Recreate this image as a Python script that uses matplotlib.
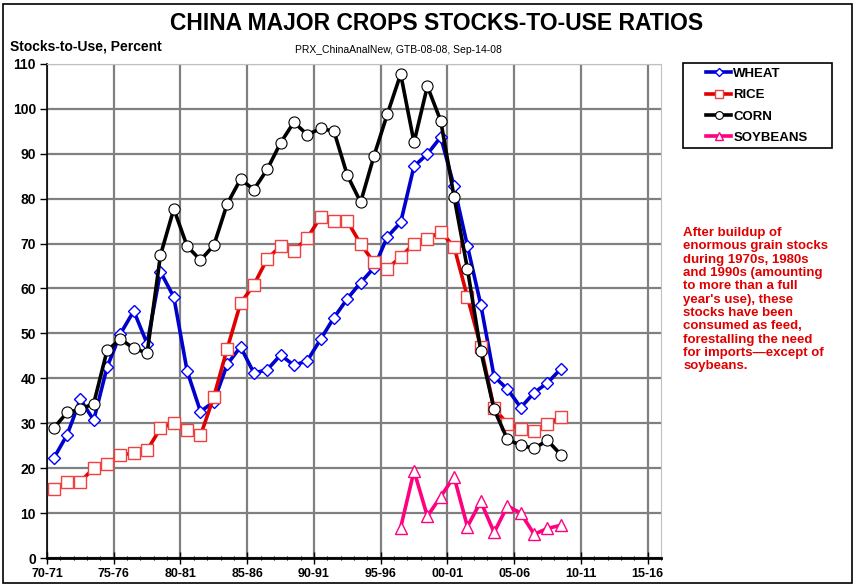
import numpy as np
import matplotlib
matplotlib.use("Agg")
import matplotlib.pyplot as plt
from matplotlib.patches import Rectangle

plt.rcParams['font.family'] = ['Liberation Sans', 'DejaVu Sans']

# marketing years 1970/71 .. 2008/09
tick_labels = ['70-71', '75-76', '80-81', '85-86', '90-91', '95-96',
               '00-01', '05-06', '10-11', '15-16']

wheat = [22.2, 27.4, 35.3, 30.7, 42.5, 49.9, 55.0, 47.7, 63.7, 58.1,
         41.6, 32.6, 34.8, 43.1, 47.0, 41.2, 41.9, 45.2, 42.9, 43.9,
         48.7, 53.5, 57.7, 61.3, 64.6, 71.5, 74.7, 87.2, 89.9, 93.7,
         82.7, 69.5, 56.4, 40.4, 37.6, 33.5, 36.8, 39.0, 42.1]
rice = [15.4, 17.0, 17.0, 20.0, 20.9, 23.0, 23.3, 24.0, 28.9, 30.0,
        28.4, 27.3, 35.9, 46.6, 56.7, 60.8, 66.6, 69.4, 68.4, 71.2,
        75.9, 75.0, 75.0, 69.9, 65.8, 64.4, 67.0, 70.0, 71.0, 72.6,
        69.3, 58.1, 47.0, 33.3, 29.9, 28.8, 28.3, 29.8, 31.4]
corn = [28.9, 32.4, 33.1, 34.4, 46.2, 48.7, 46.7, 45.6, 67.4, 77.7,
        69.4, 66.3, 69.6, 78.8, 84.3, 82.0, 86.5, 92.4, 97.0, 94.2,
        95.6, 95.0, 85.2, 79.2, 89.5, 98.8, 107.7, 92.5, 105.0, 97.3,
        80.4, 64.4, 46.1, 33.1, 26.4, 25.1, 24.4, 26.2, 23.0]
# soybeans start in 1996/97
soy_start = 26
soybeans = [6.8, 19.4, 9.3, 13.7, 18.1, 7.0, 12.6, 5.7, 11.6, 10.0,
            5.3, 6.6, 7.3]

note = ("After buildup of\nenormous grain stocks\nduring 1970s, 1980s\n"
        "and 1990s (amounting\nto more than a full\nyear's use), these\n"
        "stocks have been\nconsumed as feed,\nforestalling the need\n"
        "for imports\u2014except of\nsoybeans.")

x = np.arange(len(wheat)) + 0.5
x_soy = np.arange(soy_start, soy_start + len(soybeans)) + 0.5

fig = plt.figure(figsize=(8.55, 5.85), dpi=100)
ax = fig.add_axes([0.055, 0.046, 0.718, 0.845])

ax.plot(x, wheat, color='#0000CC', lw=2.6, marker='D', ms=6,
        mfc='white', mec='#0000FF', mew=1.0, label='WHEAT', zorder=3)
ax.plot(x, rice, color='#E00000', lw=2.6, marker='s', ms=9,
        mfc='white', mec='#F04040', mew=1.0, label='RICE', zorder=4)
ax.plot(x, corn, color='black', lw=2.6, marker='o', ms=8,
        mfc='white', mec='black', mew=0.8, label='CORN', zorder=5)
ax.plot(x_soy, soybeans, color='#FF0080', lw=2.6, marker='^', ms=8,
        mfc='white', mec='#FF0080', mew=1.0, label='SOYBEANS', zorder=6)

ax.set_xlim(0, 46)
ax.set_ylim(0, 110)
ax.set_xticks(np.arange(0, 46, 5))
ax.set_xticklabels(tick_labels, fontweight='bold', fontsize=9)
ax.set_xticks(np.arange(0, 47, 1), minor=True)
ax.set_yticks(np.arange(0, 111, 10))
ax.set_yticklabels([str(v) for v in range(0, 111, 10)], fontweight='bold', fontsize=10)
ax.tick_params(axis='x', which='major', direction='inout', length=8, width=1, pad=3)
ax.tick_params(axis='x', which='minor', direction='inout', length=3, width=0.8)
ax.tick_params(axis='y', which='major', direction='out', length=5, width=1, pad=3)
ax.grid(True, which='major', color='#808080', lw=1.6)
ax.set_axisbelow(True)

for s in ['top', 'right']:
    ax.spines[s].set_color('#c0c0c0')
ax.spines['left'].set_linewidth(1.2)
ax.spines['bottom'].set_linewidth(2.0)

fig.text(0.511, 0.960, 'CHINA MAJOR CROPS STOCKS-TO-USE RATIOS', ha='center',
         va='center', fontsize=16.5, fontweight='bold')
fig.text(0.012, 0.921, 'Stocks-to-Use, Percent', ha='left', va='center',
         fontsize=10, fontweight='bold')
fig.text(0.466, 0.914, 'PRX_ChinaAnalNew, GTB-08-08, Sep-14-08', ha='center',
         va='center', fontsize=7.5)

# legend box
fig.patches.append(Rectangle((0.799, 0.747), 0.174, 0.145, transform=fig.transFigure,
                             fill=False, ec='black', lw=1.2))
handles, labels = ax.get_legend_handles_labels()
fig.legend(handles, labels, loc='upper left', bbox_to_anchor=(0.820, 0.893),
           borderaxespad=0, frameon=False, prop={'weight': 'bold', 'size': 9.5},
           handlelength=1.9, labelspacing=0.68, handletextpad=0.15, markerscale=0.7)

fig.text(0.799, 0.612, note, ha='left', va='top', color='#E00000', fontsize=9.5,
         fontweight='bold', linespacing=1.15)

fig.patches.append(Rectangle((0.003, 0.004), 0.994, 0.99, transform=fig.transFigure,
                             fill=False, ec='black', lw=1.2))

fig.savefig('out.png', dpi=100)
